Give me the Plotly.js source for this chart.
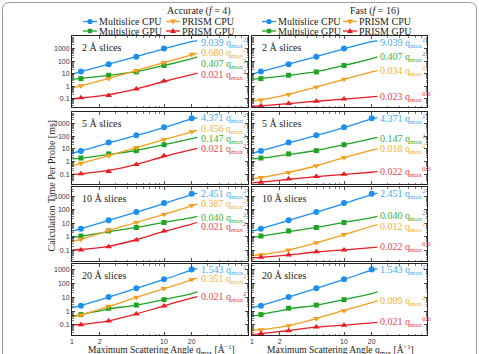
<!DOCTYPE html>
<html><head><meta charset="utf-8">
<script src="https://cdn.plot.ly/plotly-3.0.1.min.js"></script>
<style>html,body{margin:0;padding:0;background:#fff}#chart{width:479px;height:354px}</style>
</head><body><div id="chart"></div>
<script>
// ---------------- DATA ----------------
const qData = [1.25, 2.5, 5, 10, 20];            // measured scattering angles
const qFit  = [1, 1.25, 2.5, 5, 10, 20, 23];     // where the fitted curves are read
const sliceLabels = ['2 Å slices', '5 Å slices', '10 Å slices', '20 Å slices'];
const seriesNames = ['Multislice CPU', 'Multislice GPU', 'PRISM CPU', 'PRISM GPU'];
const modeTitles = ['Accurate (<i>f</i> = 4)', 'Fast (<i>f</i> = 16)'];
const xTitle = 'Maximum Scattering Angle q<sub>max</sub> [Å<sup>−1</sup>]';
const yTitle = 'Calculation Time Per Probe [ms]';

// Multislice (identical in both modes), one row per slice thickness
const msCpuPts = [[15, 58, 230, 1060, null], [6.8, 31, 114, 490, 2550], [3.8, 16, 67, 300, 1450], [2.45, 10.2, 43, 190, 950]];
const msCpuFit = [[9.2, 14.5, 58, 232, 990, 3700, 4300], [4.4, 6.8, 29, 114, 470, 2200, 2800], [2.5, 3.8, 15.5, 64, 275, 1300, 1650], [1.7, 2.5, 10, 42, 185, 870, 1100]];
const msGpuPts = [[4.1, 7.6, 14, 46, null], [1.9, 4.0, 7.2, 21, null], [1.1, 2.6, 4.7, 11, null], [0.56, 1.6, 2.7, 6.6, null]];
const msGpuFit = [[3.6, 4.2, 7.4, 14.5, 46, 165, 225], [1.6, 1.8, 3.6, 7.4, 21, 62, 78], [0.87, 1.05, 2.3, 4.7, 11.2, 25, 31], [0.45, 0.56, 1.4, 2.7, 6.7, 18, 24]];
// PRISM, accurate (f = 4)
const prCpuAccPts = [[1.1, 4.2, 18.5, 80, 360], [0.73, 3.0, 13, 53, 220], [0.62, 2.9, 11, 44, 200], [0.52, 2.2, 9.7, 41, 181]];
const prCpuAccFit = [[0.68, 1.05, 4.3, 18, 76, 330, 450], [0.46, 0.72, 2.9, 12.5, 52, 210, 280], [0.44, 0.62, 2.8, 11, 44, 190, 250], [0.37, 0.53, 2.1, 9.5, 40, 175, 230]];
const prGpuAccPts = [[0.12, 0.185, 0.59, 2.6, null], [0.11, 0.17, 0.59, 2.8, null], [0.103, 0.175, 0.56, 2.6, null], [0.103, 0.19, 0.62, 2.3, null]];
const prGpuAccFit = [[0.1, 0.115, 0.21, 0.62, 2.4, 8.5, 11], [0.1, 0.11, 0.2, 0.6, 2.5, 8.5, 11], [0.1, 0.11, 0.19, 0.58, 2.4, 8.4, 11], [0.1, 0.11, 0.2, 0.62, 2.4, 8.6, 11]];
// PRISM, fast (f = 16)
const prCpuFastPts = [[0.08, 0.22, 0.86, 3.7, null], [0.057, 0.14, 0.48, 2.1, null], [0.045, 0.1, 0.35, 1.4, null], [0.046, 0.089, 0.29, 1.07, null]];
const prCpuFastFit = [[0.065, 0.08, 0.22, 0.86, 3.6, 14, 18], [0.045, 0.056, 0.14, 0.47, 2.0, 7.8, 10], [0.038, 0.045, 0.1, 0.34, 1.4, 5.8, 7.8], [0.04, 0.046, 0.09, 0.29, 1.1, 4.0, 5.3]];
const prGpuFastPts = [[0.027, 0.042, 0.063, 0.094, null], [0.024, 0.042, 0.067, 0.1, null], [0.029, 0.043, 0.075, 0.1, null], [0.024, 0.039, 0.072, 0.095, null]];
const prGpuFastFit = [[0.024, 0.027, 0.041, 0.063, 0.095, 0.14, 0.155], [0.021, 0.024, 0.041, 0.066, 0.1, 0.145, 0.16], [0.026, 0.029, 0.044, 0.072, 0.105, 0.15, 0.166], [0.021, 0.024, 0.04, 0.07, 0.097, 0.14, 0.156]];

// Fit coefficients printed at the right of each panel
const msCpuCoef = ['9.039', '4.371', '2.451', '1.543'];
const msGpuCoef = ['0.407', '0.147', '0.040', null];
const prCpuAccCoef = ['0.680', '0.456', '0.387', '0.351'];
const prGpuAccCoef = ['0.021', '0.021', '0.021', '0.021'];
const prCpuFastCoef = ['0.034', '0.018', '0.012', '0.009'];
const prGpuFastCoef = ['0.023', '0.022', '0.022', '0.021'];
const expQ2 = '2', expQ06 = '0.6';

// ---------------- STYLE / LAYOUT CONFIG ----------------
const W = 479, H = 354, L = 72, R = 427, T = 36, B = 335;
const PW = R - L, PH = B - T;
const px2x = p => (p - L) / PW, py2y = p => (B - p) / PH;
const colPx = [[72, 248], [252, 427]];
const rowPx = [[36, 107], [112, 184], [187, 261], [264, 335]];
const yRanges = [[-1.66, 4.02], [-1.76, 3.89], [-1.81, 3.67], [-1.72, 3.38]];
const xDecadePx = 92;
const colors = {blue: '#1b8ff0', green: '#1fa324', orange: '#f59d1c', red: '#e81c24'};
const txtColors = {blue: '#45aaf2', green: '#3daf45', orange: '#f5b03c', red: '#ea4452'};
const symbols = ['circle', 'square', 'triangle-down', 'triangle-up'];
const sizes = [6, 5, 6, 6];
const serif = 'Liberation Serif, Times New Roman, serif';
const sans = 'Liberation Sans, Arial, sans-serif';
// label vertical positions (log10 units) per column, row, series [msCpu, msGpu, prCpu, prGpu]
const labelPosAcc = [[3.48, 1.77, 2.63, 0.89], [3.42, 1.80, 2.56, 1.01], [3.15, 1.37, 2.38, 0.70], [2.98, null, 2.33, 1.01]];
const labelPosFast = [[3.48, 2.36, 1.24, -0.84], [3.31, 1.80, 0.96, -0.82], [3.15, 1.52, 0.73, -0.80], [2.95, null, 0.72, -0.81]];
const labelXq = [24.5, 23.8];

// ---------------- BUILD ----------------
const traces = [], annotations = [], shapes = [];
const layout = {
  width: W, height: H, margin: {l: L, r: W - R, t: T, b: H - B, pad: 0},
  paper_bgcolor: '#fff', plot_bgcolor: '#fff', showlegend: false,
  font: {family: serif, size: 10, color: '#222'}
};
const colorKeys = ['blue', 'green', 'orange', 'red'];

const yMinor = [];
for (let e = -2; e <= 4; e++) for (let d = 2; d <= 9; d++) yMinor.push(d * Math.pow(10, e));
const xMinor = [3, 4, 5, 6, 7, 8, 9, 30, 40, 50, 60, 70, 80];

for (let r = 0; r < 4; r++) {
  for (let c = 0; c < 2; c++) {
    const i = r * 2 + c + 1, s = i === 1 ? '' : String(i);
    const xa = 'x' + s, ya = 'y' + s;
    const xr = (colPx[c][1] - colPx[c][0]) / xDecadePx;
    layout['xaxis' + s] = {
      type: 'log', domain: [px2x(colPx[c][0]), px2x(colPx[c][1])], range: [0, xr], anchor: ya,
      tickmode: 'array', tickvals: [1, 2, 10, 20], ticktext: ['1', '2', '10', '20'],
      showticklabels: r === 3, ticks: 'inside', ticklen: 3, tickwidth: 0.8, tickcolor: '#222',
      minor: {tickmode: 'array', tickvals: xMinor, ticks: 'inside', ticklen: 1.5, tickwidth: 0.6, tickcolor: '#222'},
      showline: true, mirror: 'ticks', linecolor: '#222', linewidth: 1, showgrid: false, zeroline: false,
      tickfont: {family: sans, size: 7, color: '#333'}, ticklabelstandoff: 0
    };
    layout['yaxis' + s] = {
      type: 'log', domain: [py2y(rowPx[r][1]), py2y(rowPx[r][0])], range: yRanges[r], anchor: xa,
      tickmode: 'array', tickvals: [0.1, 1, 10, 100, 1000], ticktext: ['0.1', '1', '10', '100', '1000'],
      showticklabels: c === 0, ticks: 'inside', ticklen: 3, tickwidth: 0.8, tickcolor: '#222',
      minor: {tickmode: 'array', tickvals: yMinor, ticks: 'inside', ticklen: 1.5, tickwidth: 0.6, tickcolor: '#222'},
      showline: true, mirror: 'ticks', linecolor: '#222', linewidth: 1, showgrid: false, zeroline: false,
      tickfont: {family: sans, size: 7, color: '#333'}
    };
    const pts = c === 0 ? [msCpuPts[r], msGpuPts[r], prCpuAccPts[r], prGpuAccPts[r]] : [msCpuPts[r], msGpuPts[r], prCpuFastPts[r], prGpuFastPts[r]];
    const fits = c === 0 ? [msCpuFit[r], msGpuFit[r], prCpuAccFit[r], prGpuAccFit[r]] : [msCpuFit[r], msGpuFit[r], prCpuFastFit[r], prGpuFastFit[r]];
    const coefs = c === 0 ? [msCpuCoef[r], msGpuCoef[r], prCpuAccCoef[r], prGpuAccCoef[r]] : [msCpuCoef[r], msGpuCoef[r], prCpuFastCoef[r], prGpuFastCoef[r]];
    const exps = c === 0 ? [expQ2, expQ2, expQ2, expQ2] : [expQ2, expQ2, expQ2, expQ06];
    const lpos = c === 0 ? labelPosAcc[r] : labelPosFast[r];
    for (let k = 0; k < 4; k++) {
      const col = colors[colorKeys[k]];
      traces.push({x: qFit, y: fits[k], xaxis: xa, yaxis: ya, mode: 'lines', name: seriesNames[k],
        line: {color: col, width: 1.3, shape: 'spline', smoothing: 1}, hoverinfo: 'skip'});
      traces.push({x: qData, y: pts[k], xaxis: xa, yaxis: ya, mode: 'markers', name: seriesNames[k],
        marker: {color: col, symbol: symbols[k], size: sizes[k], line: {width: 0}}});
      if (coefs[k] !== null && lpos[k] !== null) {
        annotations.push({xref: xa, yref: ya, x: Math.log10(labelXq[c]), y: lpos[k], xanchor: 'left', yanchor: 'middle',
          text: coefs[k] + ' q<sub>max</sub><sup>' + exps[k] + '</sup>', showarrow: false, borderpad: 0,
          font: {family: serif, size: 10, color: txtColors[colorKeys[k]]}});
      }
    }
    annotations.push({xref: xa + ' domain', yref: ya + ' domain', x: 0.045, y: 0.84, xanchor: 'left', yanchor: 'middle',
      text: sliceLabels[r], showarrow: false, font: {family: serif, size: 10, color: '#222'}});
  }
}

// axis titles
const xTitlePx = [[161, 349.5], [340, 349.5]];
for (let c = 0; c < 2; c++) annotations.push({xref: 'paper', yref: 'paper', x: px2x(xTitlePx[c][0]), y: py2y(xTitlePx[c][1]),
  xanchor: 'center', yanchor: 'middle', text: xTitle, showarrow: false, borderpad: 0, font: {family: serif, size: 9.5, color: '#222'}});
annotations.push({xref: 'paper', yref: 'paper', x: px2x(51), y: py2y(185.5), xanchor: 'center', yanchor: 'middle', textangle: -90,
  text: yTitle, showarrow: false, font: {family: serif, size: 10, color: '#222'}});

// column titles
const titlePx = [[199, 11], [374, 11]];
for (let c = 0; c < 2; c++) annotations.push({xref: 'paper', yref: 'paper', x: px2x(titlePx[c][0]), y: py2y(titlePx[c][1]),
  xanchor: 'center', yanchor: 'middle', text: modeTitles[c], showarrow: false, font: {family: serif, size: 10, color: '#222'}});

// legends (two per column, drawn as shapes + text)
const legendCols = [[83, 166], [262, 343]];
const legendRows = [21.5, 31];
const legendOrder = [[0, 2], [1, 3]]; // [row][col] -> series
for (let c = 0; c < 2; c++) {
  for (let lr = 0; lr < 2; lr++) {
    for (let lc = 0; lc < 2; lc++) {
      const k = legendOrder[lr][lc];
      const col = colors[colorKeys[k]];
      const x0 = legendCols[c][lc], x1 = x0 + 14, yy = legendRows[lr];
      shapes.push({type: 'line', xref: 'paper', yref: 'paper', x0: px2x(x0), x1: px2x(x1), y0: py2y(yy), y1: py2y(yy), line: {color: col, width: 1.3}});
      const base = {xref: 'paper', yref: 'paper', xsizemode: 'pixel', ysizemode: 'pixel', xanchor: px2x((x0 + x1) / 2), yanchor: py2y(yy), fillcolor: col, line: {width: 0}};
      const sz = 2.6;
      if (symbols[k] === 'circle') shapes.push(Object.assign({type: 'circle', x0: -sz, x1: sz, y0: -sz, y1: sz}, base));
      else if (symbols[k] === 'square') shapes.push(Object.assign({type: 'rect', x0: -2.2, x1: 2.2, y0: -2.2, y1: 2.2}, base));
      else if (symbols[k] === 'triangle-down') shapes.push(Object.assign({type: 'path', path: `M-3,2 L3,2 L0,-3 Z`}, base));
      else shapes.push(Object.assign({type: 'path', path: `M-3,-2 L3,-2 L0,3 Z`}, base));
      annotations.push({xref: 'paper', yref: 'paper', x: px2x(x1 + 1), y: py2y(yy), xanchor: 'left', yanchor: 'middle',
        text: seriesNames[k], showarrow: false, borderpad: 0, font: {family: serif, size: 10, color: '#222'}});
    }
  }
}

// rounded outer frame
(function () {
  const xl = px2x(2.5), xrr = px2x(476.5), yt = py2y(2.5), yb = py2y(370), rx = 7 / PW, ry = 7 / PH;
  shapes.push({type: 'path', xref: 'paper', yref: 'paper', layer: 'below',
    path: `M${xl},${yb} L${xl},${yt - ry} Q${xl},${yt} ${xl + rx},${yt} L${xrr - rx},${yt} Q${xrr},${yt} ${xrr},${yt - ry} L${xrr},${yb}`,
    line: {color: '#9a9a9a', width: 1}});
})();

layout.annotations = annotations;
layout.shapes = shapes;
Plotly.newPlot('chart', traces, layout, {staticPlot: true, displayModeBar: false});
</script>
</body></html>
